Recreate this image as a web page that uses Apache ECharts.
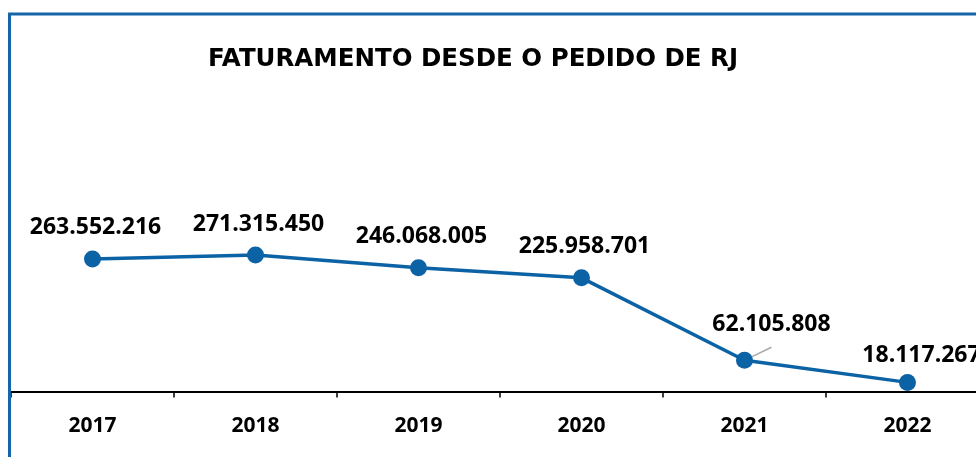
<!DOCTYPE html>
<html>
<head>
<meta charset="utf-8">
<script src="https://cdn.jsdelivr.net/npm/echarts@6/dist/echarts.min.js"></script>
<style>
html,body{margin:0;padding:0;background:#fff;overflow:hidden;width:976px;height:457px;}
#chart{width:989px;height:457px;}
</style>
</head>
<body>
<div id="chart"></div>
<script>
const titleText = 'FATURAMENTO DESDE O PEDIDO DE RJ';
const years = ['2017', '2018', '2019', '2020', '2021', '2022'];
const revenue = [263552216, 271315450, 246068005, 225958701, 62105808, 18117267];
const labelTexts = ['263.552.216', '271.315.450', '246.068.005', '225.958.701', '62.105.808', '18.117.267'];

const BLUE = '#0B62A4';
const FONT = '"Open Sans"';

const chart = echarts.init(document.getElementById('chart'), null, {renderer: 'canvas'});

const seriesData = revenue.map(function (v, i) {
  const item = {value: v};
  if (i === 4) {
    item.label = {offset: [27, -6]};
    item.labelLine = {show: true, showAbove: true, lineStyle: {color: '#A8A8A8', width: 1.5}};
  }
  if (i === 5) {
    item.label = {offset: [14, 3]};
  }
  return item;
});

chart.setOption({
  animation: false,
  backgroundColor: '#ffffff',
  title: {
    text: titleText,
    left: 468,
    top: 42,
    textAlign: 'center',
    textStyle: {fontFamily: '"DejaVu Sans"', fontWeight: 'bold', fontSize: 24.5, color: '#000'}
  },
  graphic: [{
    type: 'rect',
    shape: {x: 9.5, y: 14, width: 1100, height: 600},
    style: {fill: 'none', stroke: '#1565A8', lineWidth: 3},
    z: 100
  }],
  grid: {left: 11, top: 140, bottom: 65.5, right: 0},
  xAxis: {
    type: 'category',
    data: years,
    boundaryGap: true,
    axisLine: {lineStyle: {color: '#000', width: 2}},
    axisTick: {show: true, length: 6, lineStyle: {color: '#000', width: 1.5}},
    axisLabel: {fontFamily: FONT, fontWeight: 'bold', fontSize: 21, color: '#000', margin: 24}
  },
  yAxis: {
    type: 'value',
    min: 0,
    max: 500000000,
    show: false,
    splitLine: {show: false}
  },
  series: [{
    type: 'line',
    data: seriesData,
    symbol: 'circle',
    symbolSize: 17,
    itemStyle: {color: BLUE},
    lineStyle: {color: BLUE, width: 3.5},
    label: {
      show: true,
      position: 'top',
      distance: 10,
      offset: [3, -1],
      fontFamily: FONT,
      fontWeight: 'bold',
      fontSize: 23,
      color: '#000',
      formatter: function (p) { return labelTexts[p.dataIndex]; }
    }
  }]
});
</script>
</body>
</html>
